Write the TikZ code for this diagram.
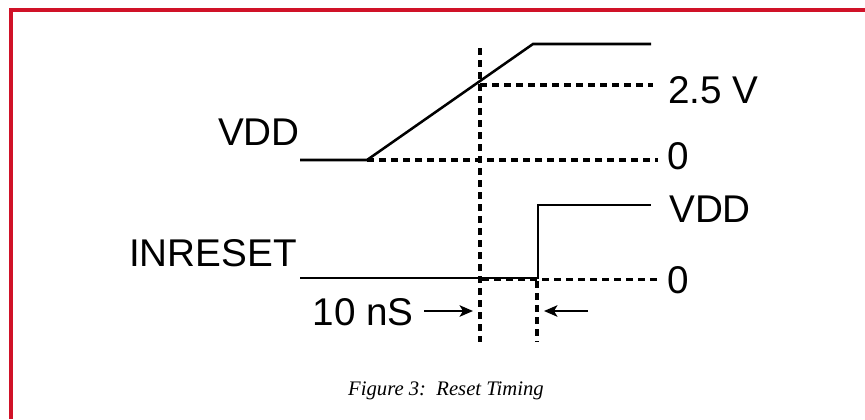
\documentclass[tikz,border=0pt]{standalone}
\usepackage{fontspec}
\setmainfont{Liberation Serif}
\setsansfont{Liberation Sans}
\usetikzlibrary{arrows.meta}
\definecolor{framered}{RGB}{208,18,40}
\tikzset{
  wave/.style={line width=1.9pt, line join=miter},
  guide/.style={line width=2.7pt, dash pattern=on 5.5pt off 3.5pt},
  siglabel/.style={font=\sffamily\fontsize{29}{32}\selectfont, inner sep=0pt},
  timearrow/.style={line width=1.9pt, -{Stealth[length=10pt,width=8.5pt,inset=2.5pt]}}
}
\begin{document}
\begin{tikzpicture}[x=0.75pt,y=0.75pt,yscale=-1,xscale=1]
    \useasboundingbox (0,0) rectangle (865,419);

    % Frame
    \draw [framered, line width=2.4pt] (11,419) -- (11,10) -- (865,10);

    % Coordinates
    \coordinate (vddLow) at (300,160);
    \coordinate (rampStart) at (367,160);
    \coordinate (rampEnd) at (533,44);
    \coordinate (vddEnd) at (651,44);
    \coordinate (rstLow) at (300,278);
    \coordinate (edgeLow) at (538,278);
    \coordinate (edgeHigh) at (538,205);
    \coordinate (rstEnd) at (651,205);

    % VDD waveform
    \draw [wave] (vddLow) -- (rampStart) -- (rampEnd) -- (vddEnd);
    % INRESET waveform
    \draw [wave] (rstLow) -- (edgeLow) -- (edgeHigh) -- (rstEnd);

    % Guides
    \draw [guide] (480,85) -- (653,85);
    \draw [guide] (rampStart) -- (658,160);
    \draw [guide] (482,279.5) -- (658,279.5);
    \draw [guide] (480,48) -- (480,342);
    \draw [guide] (537,281) -- (537,342);

    % Text Node
    \node (vddName) [siglabel, anchor=base east] at (300,145) {VDD};
    \node (rstName) [siglabel, anchor=base east] at (297,266) {INRESET};
    \node (highLevel) [siglabel, anchor=base west] at (668,103) {2.5 V};
    \node (vddZero) [siglabel, anchor=base west] at (667,169) {0};
    \node (rstHigh) [siglabel, anchor=base west] at (669,222) {VDD};
    \node (rstZero) [siglabel, anchor=base west] at (667,293) {0};
    \node (delay) [siglabel, anchor=base east] at (414,325) {10 nS};

    % Connection
    \coordinate (arrowInA) at (473,311);
    \coordinate (arrowInB) at (544,311);
    \draw [timearrow] (delay.east |- arrowInA) ++(10,0) -- (arrowInA);
    \draw [timearrow] (588,311) -- (arrowInB);

    % Caption
    \node (caption) [font=\itshape\fontsize{15.5}{18}\selectfont, inner sep=0pt, anchor=base] at (446,395) {Figure 3:\ \ Reset Timing};

    \end{tikzpicture}
\end{document}
